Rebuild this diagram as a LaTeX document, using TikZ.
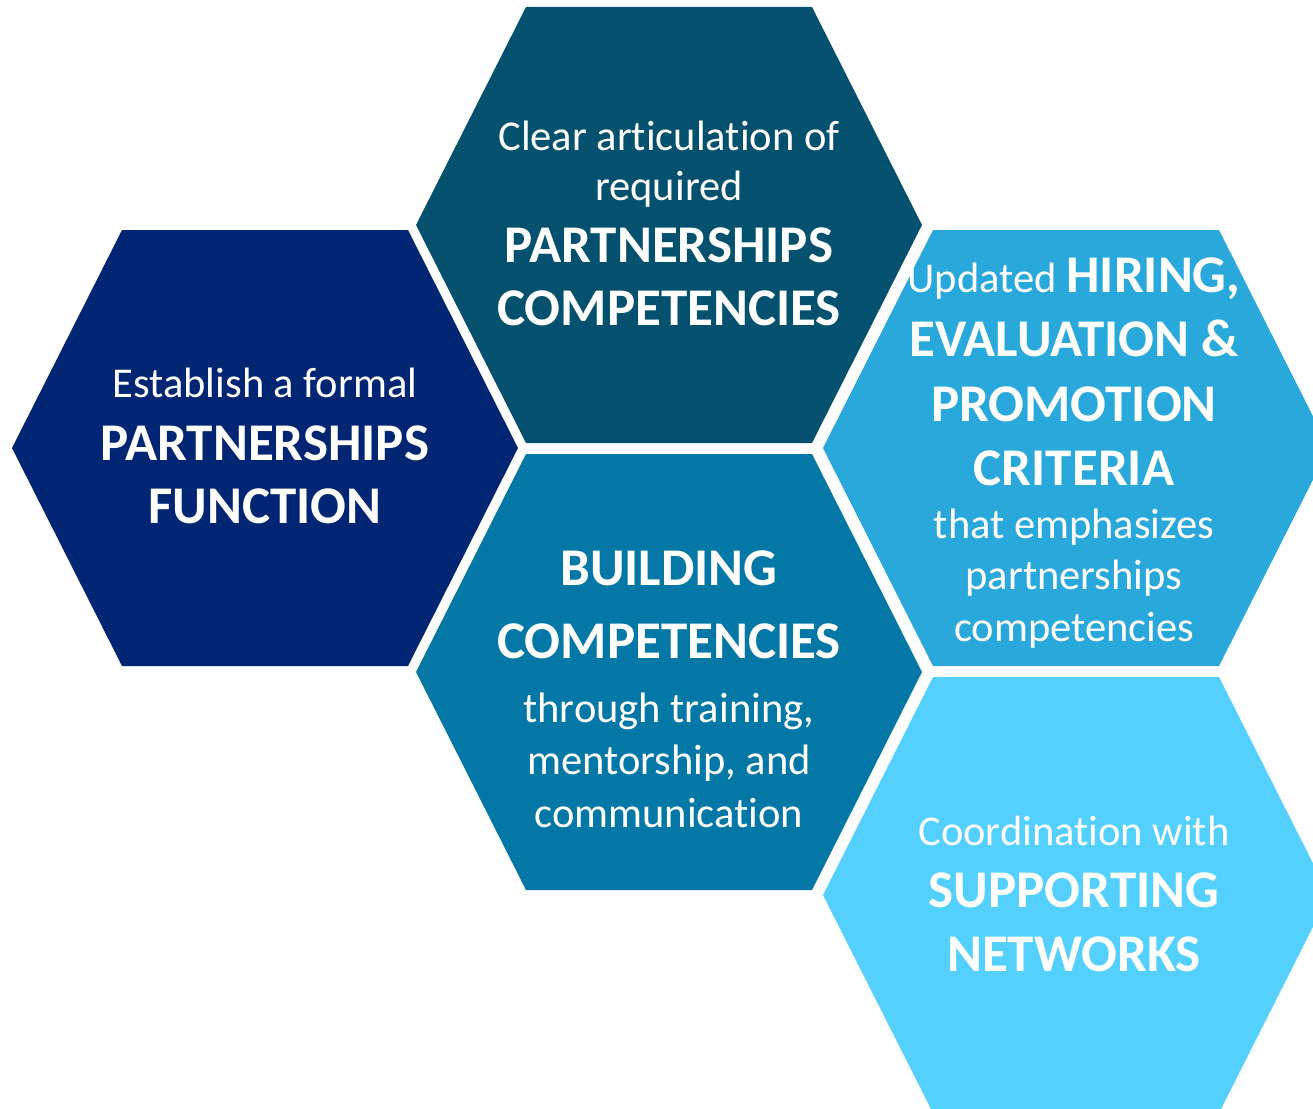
\documentclass[tikz,border=0pt]{standalone}
\usepackage{fontspec}
\setmainfont{Carlito}[Ligatures={NoCommon}]
\definecolor{hexone}{RGB}{0,37,114}
\definecolor{hextwo}{RGB}{3,81,110}
\definecolor{hexthree}{RGB}{3,120,166}
\definecolor{hexfour}{RGB}{41,169,219}
\definecolor{hexfive}{RGB}{84,208,254}
\newcommand{\bigbold}{\fontsize{53}{60}\selectfont\bfseries}
\tikzset{
  hexa/.pic={\fill (-253,0) -- (-143,-218) -- (143,-218) -- (253,0) -- (143,218) -- (-143,218) -- cycle;},
  reg/.style={anchor=base, text=white, inner sep=0pt, font=\fontsize{42.5}{48}\selectfont},
  bld/.style={anchor=base, text=white, inner sep=0pt, font=\bigbold},
}
\begin{document}
\begin{tikzpicture}[x=1pt,y=-1pt]
\useasboundingbox (0,0) rectangle (1313,1108);
\clip (0,0) rectangle (1313,1108);
% hexagon centres
\coordinate (c1) at (265,448);
\coordinate (c2) at (669,225);
\coordinate (c3) at (669,672);
\coordinate (c4) at (1076,448);
\coordinate (c5) at (1076,895);
\pic[fill=hexone] at (c1) {hexa};
\pic[fill=hextwo] at (c2) {hexa};
\pic[fill=hexthree] at (c3) {hexa};
\pic[fill=hexfour] at (c4) {hexa};
\pic[fill=hexfive] at (c5) {hexa};
% hexagon 1
\node[reg] (t1a) at (265,397) {Establish a formal};
\node[bld] (t1b) at (265,460) {PARTNERSHIPS};
\node[bld] (t1c) at (265,523) {FUNCTION};
% hexagon 2
\node[reg] (t2a) at (669,150) {Clear articulation of};
\node[reg] (t2b) at (669,200) {required};
\node[bld] (t2c) at (669,262) {PARTNERSHIPS};
\node[bld] (t2d) at (669,325) {COMPETENCIES};
% hexagon 3
\node[bld] (t3a) at (669,585) {BUILDING};
\node[bld] (t3b) at (669,658) {COMPETENCIES};
\node[reg] (t3c) at (669,722) {through training,};
\node[reg] (t3d) at (669,774) {mentorship, and};
\node[reg] (t3e) at (669,827) {communication};
% hexagon 4
\node[reg] (t4a) at (1074,292) {Updated {\bigbold HIRING,}};
\node[bld] (t4b) at (1074,356) {EVALUATION \&};
\node[bld] (t4c) at (1074,421) {PROMOTION};
\node[bld] (t4d) at (1074,485) {CRITERIA};
\node[reg] (t4e) at (1074,538) {that emphasizes};
\node[reg] (t4f) at (1074,589) {partnerships};
\node[reg] (t4g) at (1074,641) {competencies};
% hexagon 5
\node[reg] (t5a) at (1074,845) {Coordination with};
\node[bld] (t5b) at (1074,907) {SUPPORTING};
\node[bld] (t5c) at (1074,971) {NETWORKS};
\end{tikzpicture}
\end{document}
